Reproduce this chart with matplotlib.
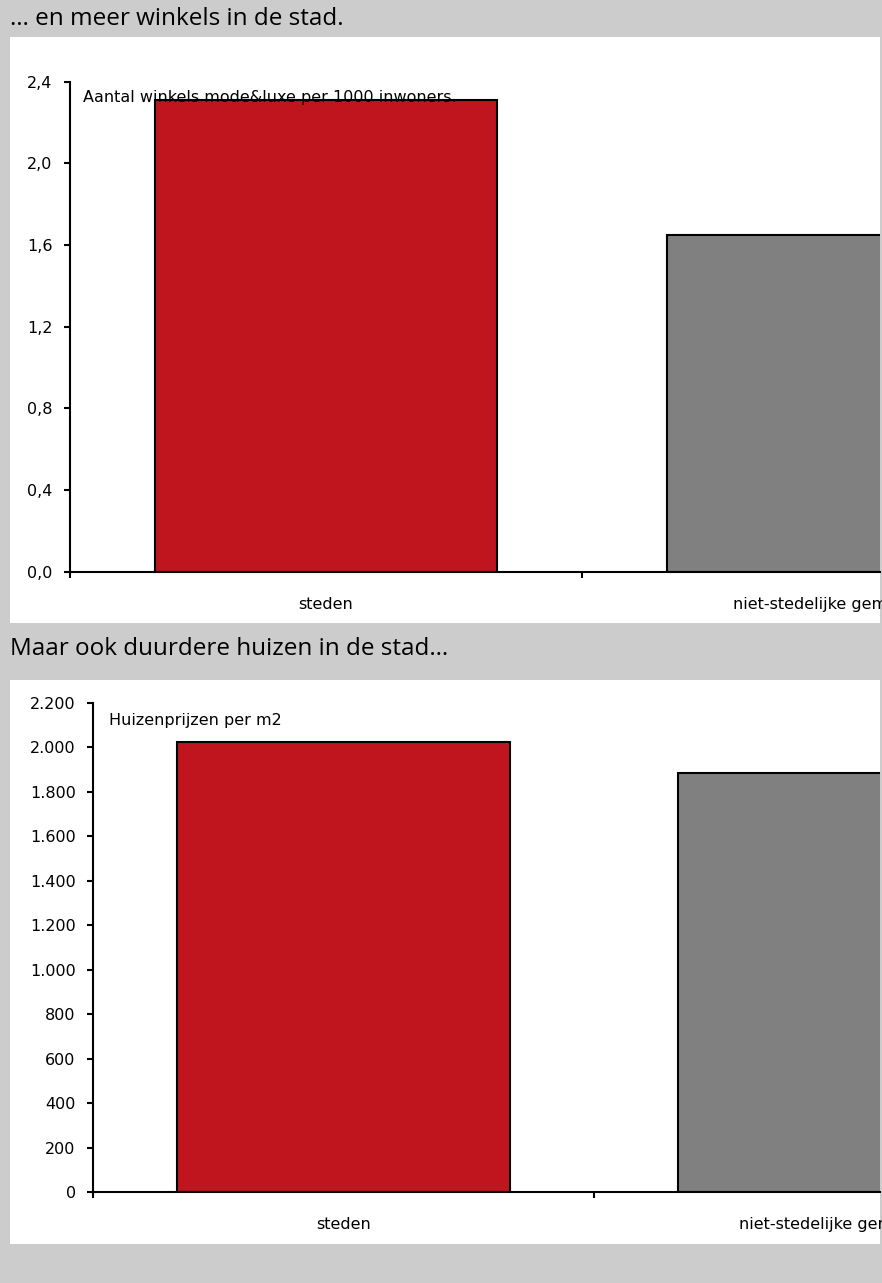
import matplotlib
matplotlib.use("Agg")
import matplotlib.pyplot as plt
from matplotlib.patches import Rectangle
from matplotlib.ticker import FuncFormatter

plt.rcParams['font.family'] = ['DejaVu Sans']

# data
categories = ['steden', 'niet-stedelijke gemeenten']
winkels = [2.31, 1.65]          # winkels mode&luxe per 1000 inwoners
huizenprijs = [2022, 1883]      # huizenprijzen per m2

title1 = '… en meer winkels in de stad.'
title2 = 'Maar ook duurdere huizen in de stad…'
note1 = 'Aantal winkels mode&luxe per 1000 inwoners.'
note2 = 'Huizenprijzen per m2'

red = '#c0141e'
grey = '#808080'
W, H = 882, 1283

fig = plt.figure(figsize=(W / 100, H / 100), dpi=100, facecolor='#cccccc')

# white panels behind the charts (pixel boxes -> figure fractions)
def panel(x0, y0, x1, y1):
    fig.patches.append(Rectangle((x0 / W, 1 - y1 / H), (x1 - x0) / W, (y1 - y0) / H,
                                 transform=fig.transFigure, facecolor='white',
                                 edgecolor='none', zorder=-10))

panel(10, 37, 880, 623)
panel(10, 680, 880, 1244)

fig.text(10 / W, 1 - 19 / H, title1, fontsize=17.5, va='center', ha='left', family='Open Sans')
fig.text(10 / W, 1 - 649 / H, title2, fontsize=17.5, va='center', ha='left', family='Open Sans')


def style(ax, right):
    ax.set_facecolor('none')
    ax.set_zorder(5)
    for s in ['top', 'right']:
        ax.spines[s].set_visible(False)
    for s in ['left', 'bottom']:
        ax.spines[s].set_linewidth(1.5)
    ax.tick_params(axis='y', direction='out', length=4.5, width=1.5, pad=8, labelsize=11.5)
    ax.tick_params(axis='x', direction='out', length=4, width=1.5, pad=14)
    ax.set_xticks([0, 1, 2])
    ax.set_xticklabels([])
    ax.set_xticks([0.5, 1.5], minor=True)
    ax.set_xticklabels(categories, minor=True)
    ax.tick_params(axis='x', which='minor', length=0, pad=18, labelsize=11.5)
    ax.set_xlim(0, right)


# chart 1
ax1 = fig.add_axes([70 / W, 1 - 571.7 / H, (880 - 70) / W, 490 / H])
ax1.bar([0.5, 1.5], winkels, width=0.668, color=[red, grey], edgecolor='black', linewidth=1.5)
ax1.set_ylim(0, 2.4)
ax1.set_yticks([0, 0.4, 0.8, 1.2, 1.6, 2.0, 2.4])
ax1.yaxis.set_major_formatter(FuncFormatter(lambda v, p: f'{v:.1f}'.replace('.', ',')))
style(ax1, (880 - 70) / 512)
ax1.text(0.025, 2.322, note1, fontsize=11.5, va='center', ha='left', zorder=5)

# chart 2
ax2 = fig.add_axes([93 / W, 1 - 1192.3 / H, (880 - 93) / W, 489.6 / H])
ax2.bar([0.5, 1.5], huizenprijs, width=0.663, color=[red, grey], edgecolor='black', linewidth=1.5)
ax2.set_ylim(0, 2200)
ax2.set_yticks(range(0, 2201, 200))
ax2.yaxis.set_major_formatter(FuncFormatter(lambda v, p: f'{int(v):,}'.replace(',', '.')))
style(ax2, (880 - 93) / 501)
ax2.text(0.032, 2119, note2, fontsize=11.5, va='center', ha='left', zorder=5)

fig.savefig('out.png', dpi=100, facecolor=fig.get_facecolor())
